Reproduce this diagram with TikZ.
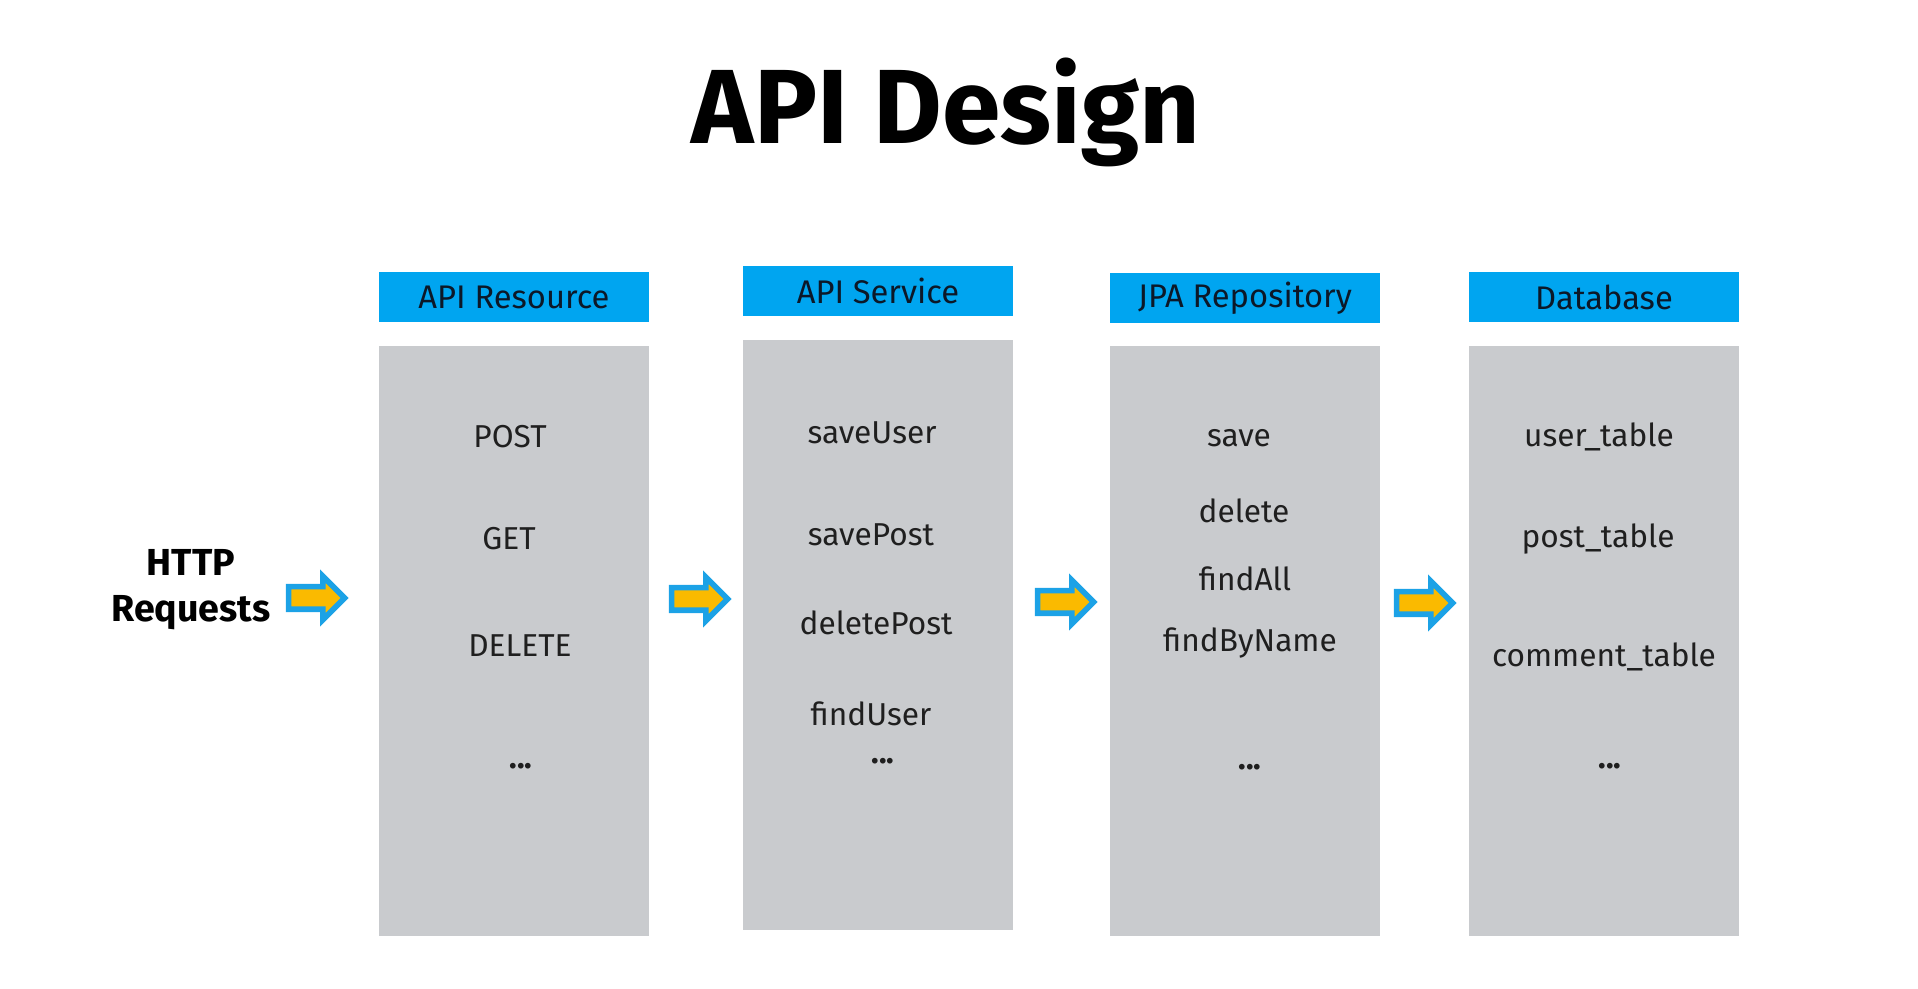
\documentclass[tikz,border=0pt]{standalone}
\usepackage{fontspec}
\setmainfont{Fira Sans}
\usetikzlibrary{positioning,shapes.arrows}
\definecolor{headblue}{RGB}{0,165,240}
\definecolor{panelgray}{RGB}{201,203,206}
\definecolor{arrowgold}{RGB}{250,186,0}
\definecolor{arrowblue}{RGB}{28,162,230}
\definecolor{inkdark}{RGB}{12,24,40}

\begin{document}
\begin{tikzpicture}[x=0.01cm, y=-0.01cm,
		head/.style={fill=headblue, minimum width=2.69cm, minimum height=0.5cm,
		             inner sep=0pt, font=\fontsize{9.3}{10}\selectfont, text=inkdark},
		panel/.style={fill=panelgray, minimum width=2.69cm, minimum height=5.9cm, inner sep=0pt},
		item/.style={font=\fontsize{9}{10}\selectfont, text=black!88},
		flow/.style={single arrow, fill=arrowgold, draw=arrowblue, line width=1.6pt,
		             minimum height=0.56cm, inner xsep=0pt, inner ysep=0.085cm,
		             single arrow head extend=0.105cm, single arrow head indent=0pt}]
		\useasboundingbox (0,0) rectangle (1918,989);
		\node[font=\fontsize{30}{34}\bfseries, anchor=base] (title) at (946,144) {API Design};
		% columns
		\node[head] (h1) at (514,297) {API Resource};
		\node[head] (h2) at (878,291) {API Service};
		\node[head] (h3) at (1245,298) {JPA Repository};
		\node[head] (h4) at (1604,297) {Database};
		\node[panel] (p1) at (514,641) {};
		\node[panel] (p2) at (878,635) {};
		\node[panel] (p3) at (1245,641) {};
		\node[panel] (p4) at (1604,641) {};
		% entries
		\foreach \n/\x/\y/\t in {a1/510/437/POST, a2/509/539/GET, a3/520/646/DELETE,
		                         b1/872/433/saveUser, b2/871/535/savePost, b3/876/623/deletePost, b4/871/714/findUser,
		                         c1/1239/438/save, c2/1244/511/delete, c3/1245/579/findAll, c4/1250/643/findByName,
		                         d1/1599/437/user\_table, d2/1598/539/post\_table, d3/1604/657/comment\_table}
			\node[item] (\n) at (\x,\y) {\t};
		\foreach \n/\x/\y in {a5/521/766, b5/883/761, c5/1250/767, d5/1610/766}
			\node[item, font=\fontsize{9}{10}\bfseries] (\n) at (\x,\y) {...};
		\node[font=\fontsize{10.7}{13.1}\bfseries, align=center] (http) at (191,590) {HTTP\\Requests};
		% flow arrows
		\node[flow] (f1) at (311,598) {};
		\node[flow] (f2) at (694,599) {};
		\node[flow] (f3) at (1060,602) {};
		\node[flow] (f4) at (1419,603) {};
	\end{tikzpicture}
\end{document}
